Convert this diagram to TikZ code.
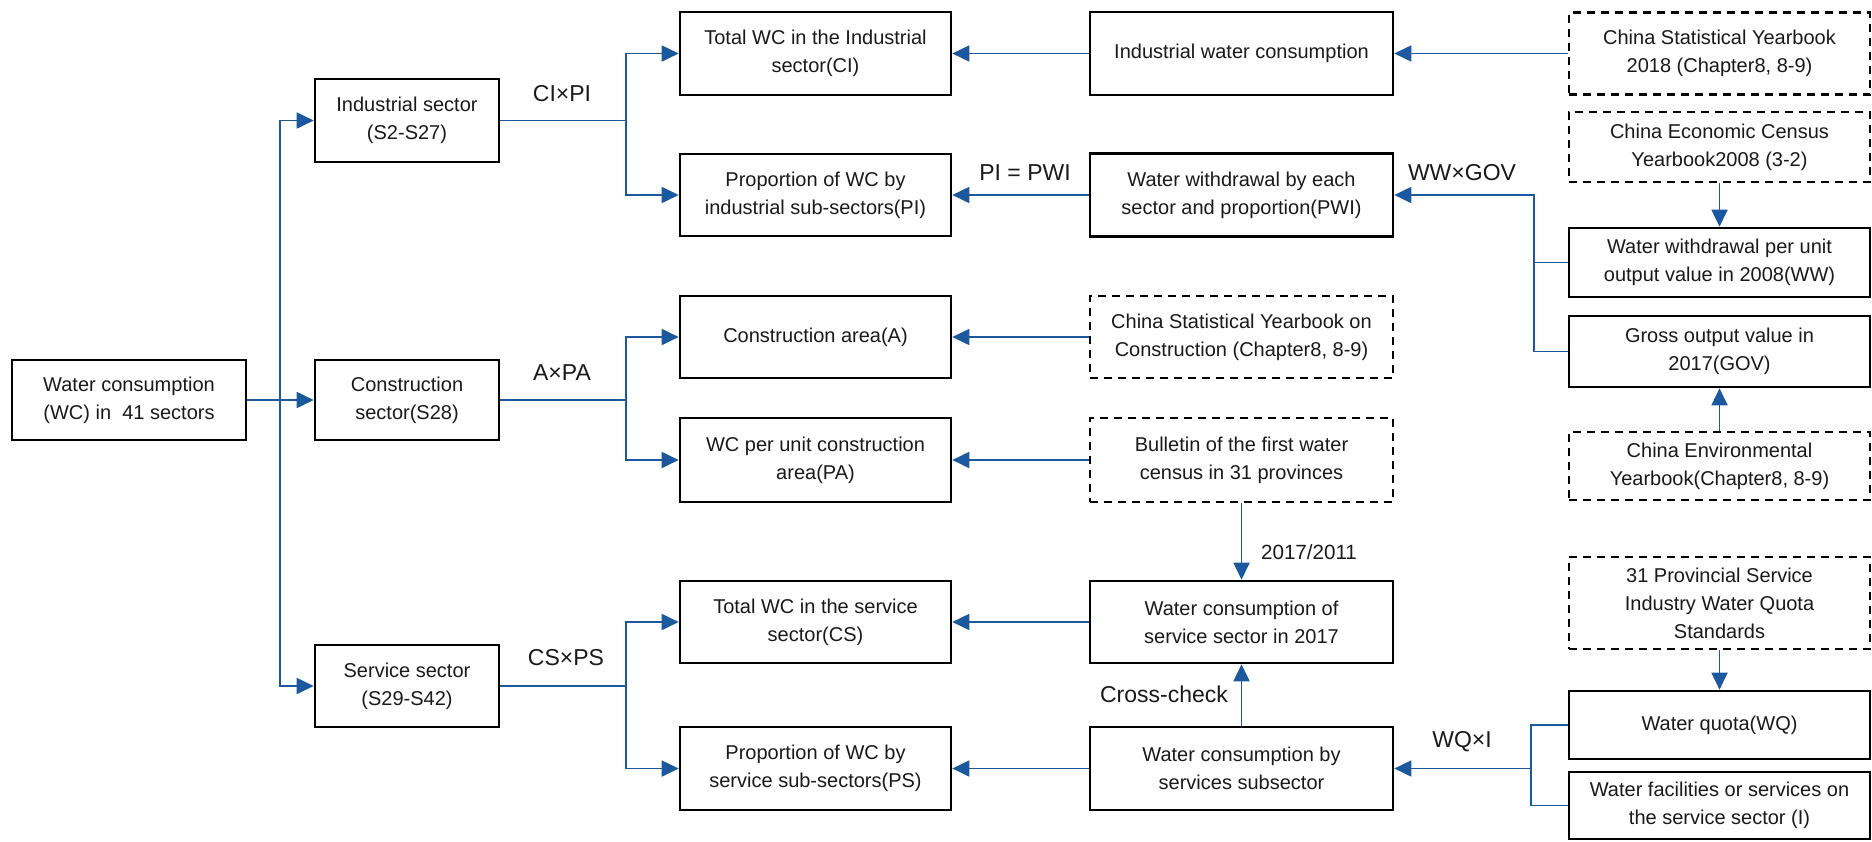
\documentclass[tikz,border=0pt]{standalone}
\usepackage{fontspec}
\setmainfont{Liberation Sans}
\usetikzlibrary{arrows.meta}
\definecolor{arrblue}{RGB}{28,88,158}
\definecolor{txt}{RGB}{25,25,25}
\begin{document}
\begin{tikzpicture}[x=0.5pt,y=-0.5pt,
  box/.style={draw=black, line width=1.3pt, align=center, inner sep=0pt, text=txt,
    font=\fontsize{10}{14}\selectfont},
  dbox/.style={box, dash pattern=on 4pt off 3pt},
  c1/.style={minimum width=117pt},
  c2/.style={minimum width=92pt},
  c3/.style={minimum width=135.5pt},
  c4/.style={minimum width=151.5pt},
  c5/.style={minimum width=150.5pt},
  conn/.style={draw=arrblue, line width=0.9pt, -{Triangle[length=8.5pt,width=8pt]}, arrblue},
  plain/.style={draw=arrblue, line width=0.9pt},
  lab/.style={inner sep=0pt, text=txt, font=\fontsize{11.5}{13}\selectfont},
  labs/.style={inner sep=0pt, text=txt, font=\fontsize{10.3}{12}\selectfont}
]
\useasboundingbox (0,0) rectangle (1872,841);

% column 1 and 2
\node[box,c1,minimum height=40pt] (wc) at (129,400) {Water consumption\\(WC) in \ 41 sectors};
\node[box,c2,minimum height=41.5pt] (ind) at (407,120.5) {Industrial sector\\(S2-S27)};
\node[box,c2,minimum height=40pt] (con) at (407,400) {Construction\\sector(S28)};
\node[box,c2,minimum height=41pt] (ser) at (407,686) {Service sector\\(S29-S42)};

% column 3
\node[box,c3,minimum height=41.5pt] (ci) at (815.5,53.5) {Total WC in the Industrial\\sector(CI)};
\node[box,c3,minimum height=41pt] (pi) at (815.5,195) {Proportion of WC by\\industrial sub-sectors(PI)};
\node[box,c3,minimum height=41pt] (ca) at (815.5,337) {Construction area(A)};
\node[box,c3,minimum height=42pt] (pa) at (815.5,460) {WC per unit construction\\area(PA)};
\node[box,c3,minimum height=41pt] (cs) at (815.5,622) {Total WC in the service\\sector(CS)};
\node[box,c3,minimum height=41.5pt] (ps) at (815.5,768.5) {Proportion of WC by\\service sub-sectors(PS)};

% column 4
\node[box,c4,minimum height=41.5pt] (iwc) at (1241.5,53.5) {Industrial water consumption};
\node[box,c4,minimum height=41.5pt] (pwi) at (1241.5,195) {Water withdrawal by each\\sector and proportion(PWI)};
\node[dbox,c4,minimum height=41pt] (csyc) at (1241.5,337) {China Statistical Yearbook on\\Construction (Chapter8, 8-9)};
\node[dbox,c4,minimum height=42pt] (bul) at (1241.5,460) {Bulletin of the first water\\census in 31 provinces};
\node[box,c4,minimum height=41pt] (wcs) at (1241.5,622) {Water consumption of\\service sector in 2017};
\node[box,c4,minimum height=41.5pt] (wcss) at (1241.5,768.5) {Water consumption by\\services subsector};

% column 5
\node[dbox,c5,minimum height=41pt] (csy) at (1719.5,53.5) {China Statistical Yearbook\\2018 (Chapter8, 8-9)};
\node[dbox,c5,minimum height=35pt] (ecy) at (1719.5,147) {China Economic Census\\Yearbook2008 (3-2)};
\node[box,c5,minimum height=34.5pt] (ww) at (1719.5,262.5) {Water withdrawal per unit\\output value in 2008(WW)};
\node[box,c5,minimum height=35.5pt] (gov) at (1719.5,351.5) {Gross output value in\\2017(GOV)};
\node[dbox,c5,minimum height=34pt] (env) at (1719.5,466) {China Environmental\\Yearbook(Chapter8, 8-9)};
\node[dbox,c5,minimum height=46pt] (prov) at (1719.5,603) {31 Provincial Service\\Industry Water Quota\\Standards};
\node[box,c5,minimum height=34pt] (wq) at (1719.5,725) {Water quota(WQ)};
\node[box,c5,minimum height=33.5pt] (wf) at (1719.5,805.5) {Water facilities or services on\\the service sector (I)};

% left trunk
\coordinate (t1) at (280,400);
\draw[conn] (wc.east) -- (con.west);
\draw[conn] (t1) |- (ind.west);
\draw[conn] (t1) |- (ser.west);

% sector junctions
\coordinate (j1) at (626,120.5);
\coordinate (j2) at (626,400);
\coordinate (j3) at (626,686);
\draw[plain] (ind.east) -- (j1);
\draw[conn] (j1) |- (ci.west);
\draw[conn] (j1) |- (pi.west);
\draw[plain] (con.east) -- (j2);
\draw[conn] (j2) |- (ca.west);
\draw[conn] (j2) |- (pa.west);
\draw[plain] (ser.east) -- (j3);
\draw[conn] (j3) |- (cs.west);
\draw[conn] (j3) |- (ps.west);
\node[lab] (lcipi) at (562,94) {CI×PI};
\node[lab] (lapa) at (562,373) {A×PA};
\node[lab] (lcsps) at (566,658) {CS×PS};

% right side
\draw[conn] (iwc.west) -- (ci.east);
\draw[conn] (csy.west) -- (iwc.east);
\draw[conn] (pwi.west) -- (pi.east);
\node[lab] (lpi) at (1025,173) {PI = PWI};
\coordinate (j5) at (1534,195);
\draw[conn] (gov.west) -| (j5) -- (pwi.east);
\draw[plain] (ww.west) -- (ww.west -| j5);
\node[lab] (lww) at (1462,173) {WW×GOV};
\draw[conn] (ecy.south) -- (ww.north);
\draw[conn] (env.north) -- (gov.south);
\draw[conn] (csyc.west) -- (ca.east);
\draw[conn] (bul.west) -- (pa.east);
\draw[conn] (bul.south) -- (wcs.north);
\node[labs] (lyr) at (1309,552) {2017/2011};
\draw[conn] (wcs.west) -- (cs.east);
\draw[conn] (wcss.north) -- (wcs.south);
\node[lab] (lcc) at (1164,694) {Cross-check};
\draw[conn] (wcss.west) -- (ps.east);
\draw[conn] (prov.south) -- (wq.north);
\coordinate (j6) at (1531,768.5);
\draw[plain] (wq.west) -| (j6 |- wf.west) -- (wf.west);
\draw[conn] (j6) -- (wcss.east);
\node[lab] (lwq) at (1462,742) {WQ×I};
\end{tikzpicture}
\end{document}
